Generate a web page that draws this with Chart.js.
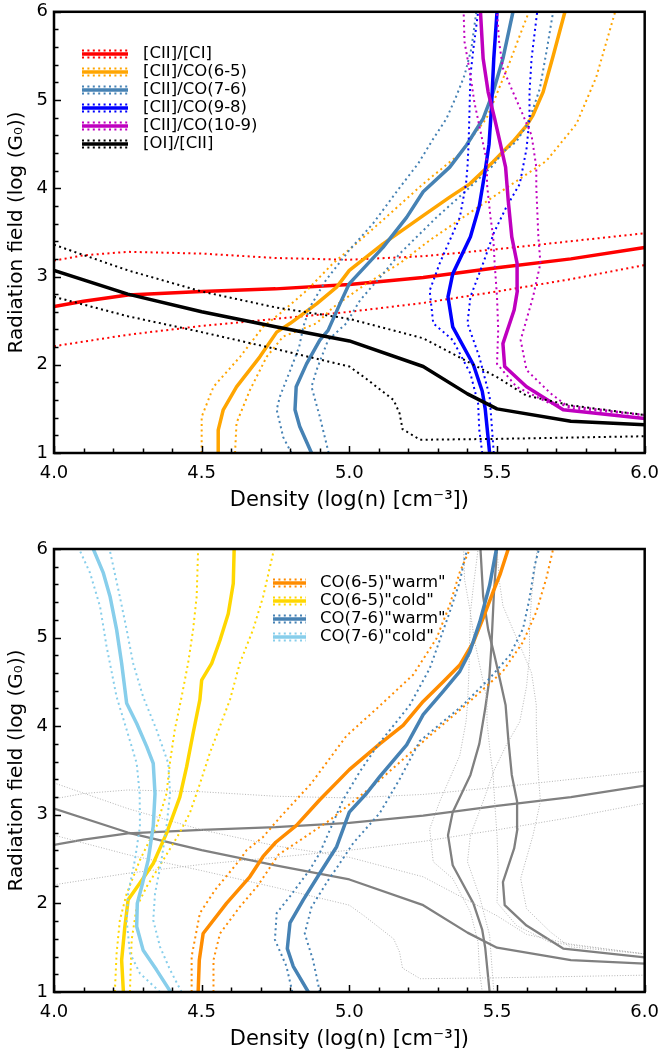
<!DOCTYPE html>
<html><head><meta charset="utf-8">
<script src="https://cdn.jsdelivr.net/npm/chart.js@4.4.0/dist/chart.umd.min.js"></script>
<style>
html,body{margin:0;padding:0;background:#fff;overflow:hidden;}
#w1{position:absolute;left:0;top:-5px;width:669px;height:526px;}
#w2{position:absolute;left:0;top:526px;width:669px;height:527px;}
</style></head><body>
<div id="w1"><canvas id="c1"></canvas></div>
<div id="w2"><canvas id="c2"></canvas></div>
<script>
// ---------- axis / tick labels ----------
const xTickValues = [4.0, 4.5, 5.0, 5.5, 6.0];
const yTickValues = [1, 2, 3, 4, 5, 6];
const xTitleText = 'Density (log(n) [cm\u207B\u00B3])';
const yTitleText = 'Radiation field (log (G\u2080))';

// ---------- top panel: line ratios (x = log n, y = log G0) ----------
const ciiCiMid = [[4.0,2.66],[4.1,2.72],[4.25,2.79],[4.5,2.83],[4.75,2.86],[5.0,2.91],[5.25,2.99],[5.5,3.10],[5.75,3.20],[6.0,3.33]];
const ciiCiUp  = [[4.0,3.18],[4.1,3.24],[4.25,3.28],[4.5,3.26],[4.75,3.21],[5.0,3.19],[5.25,3.23],[5.5,3.31],[5.75,3.40],[6.0,3.49]];
const ciiCiLow = [[4.0,2.21],[4.25,2.34],[4.5,2.44],[4.75,2.52],[5.0,2.60],[5.25,2.70],[5.5,2.83],[5.75,2.97],[6.0,3.13]];

const co65Mid = [[4.556,1.0],[4.556,1.26],[4.573,1.49],[4.618,1.75],[4.697,2.09],[4.754,2.37],[4.80,2.47],[4.889,2.69],[4.957,2.88],[5.0,3.07],[5.114,3.37],[5.25,3.69],[5.34,3.90],[5.408,4.05],[5.487,4.30],[5.554,4.53],[5.60,4.71],[5.622,4.83],[5.656,5.09],[5.69,5.50],[5.73,6.0]];
const co65Lo  = [[4.50,1.0],[4.50,1.41],[4.54,1.75],[4.63,2.09],[4.708,2.43],[4.765,2.58],[4.855,2.84],[4.945,3.15],[5.036,3.41],[5.137,3.71],[5.25,4.05],[5.374,4.39],[5.42,4.6],[5.464,4.79],[5.492,5.01],[5.52,5.24],[5.543,5.43],[5.577,5.73],[5.608,6.0]];
const co65Hi  = [[4.613,1.0],[4.618,1.34],[4.663,1.71],[4.72,2.09],[4.776,2.32],[4.889,2.47],[4.945,2.65],[5.058,2.92],[5.171,3.15],[5.272,3.41],[5.385,3.67],[5.53,4.0],[5.667,4.31],[5.769,4.73],[5.836,5.26],[5.90,6.0]];

const co76Mid = [[4.872,1.0],[4.832,1.3],[4.816,1.49],[4.82,1.75],[4.855,2.01],[4.90,2.28],[4.928,2.39],[4.968,2.69],[5.0,2.92],[5.114,3.33],[5.194,3.67],[5.25,3.96],[5.34,4.24],[5.397,4.49],[5.453,4.79],[5.487,5.09],[5.52,5.47],[5.554,6.0]];
const co76Lo  = [[4.804,1.0],[4.776,1.18],[4.754,1.49],[4.765,1.64],[4.80,1.94],[4.83,2.2],[4.844,2.43],[4.866,2.65],[4.921,2.96],[5.0,3.30],[5.08,3.60],[5.171,4.01],[5.233,4.28],[5.284,4.56],[5.329,4.79],[5.363,5.05],[5.39,5.28],[5.413,5.58],[5.43,6.0]];
const co76Hi  = [[4.93,1.0],[4.90,1.41],[4.872,1.75],[4.889,1.94],[4.928,2.28],[4.99,2.47],[5.036,2.73],[5.114,3.03],[5.171,3.26],[5.295,3.67],[5.385,3.94],[5.487,4.26],[5.52,4.41],[5.566,4.53],[5.60,4.71],[5.622,4.90],[5.645,5.13],[5.667,5.54],[5.69,6.0]];

const co98Mid = [[5.475,1.0],[5.46,1.5],[5.45,1.7],[5.42,2.0],[5.35,2.43],[5.334,2.77],[5.35,3.03],[5.41,3.45],[5.44,3.8],[5.46,4.2],[5.473,4.5],[5.481,4.9],[5.489,5.47],[5.50,6.0]];
const co98Lo  = [[5.45,1.0],[5.44,1.26],[5.436,1.56],[5.41,1.90],[5.35,2.28],[5.284,2.47],[5.272,2.84],[5.306,3.15],[5.34,3.41],[5.374,3.67],[5.395,4.05],[5.40,4.24],[5.404,4.53],[5.407,4.90],[5.41,5.28],[5.42,5.58],[5.436,6.0]];
const co98Hi  = [[5.489,1.0],[5.475,1.64],[5.44,2.09],[5.40,2.47],[5.41,2.77],[5.453,3.15],[5.49,3.5],[5.532,3.79],[5.577,4.05],[5.588,4.24],[5.60,4.45],[5.61,4.79],[5.61,5.09],[5.617,5.47],[5.636,6.0]];

const co109Mid = [[6.0,1.39],[5.724,1.49],[5.60,1.75],[5.526,1.98],[5.52,2.24],[5.558,2.62],[5.569,2.84],[5.568,3.15],[5.55,3.45],[5.538,3.86],[5.529,4.24],[5.515,4.45],[5.492,4.79],[5.47,5.09],[5.453,5.47],[5.444,6.0]];
const co109Lo  = [[6.0,1.43],[5.68,1.56],[5.566,1.75],[5.50,2.01],[5.504,2.40],[5.50,2.77],[5.492,3.15],[5.487,3.45],[5.478,3.67],[5.466,4.05],[5.466,4.3],[5.44,4.71],[5.423,4.98],[5.41,5.28],[5.39,5.66],[5.387,6.0]];
const co109Hi  = [[6.0,1.43],[5.746,1.51],[5.68,1.68],[5.60,1.94],[5.58,2.28],[5.622,2.77],[5.647,3.15],[5.64,3.45],[5.633,4.01],[5.633,4.24],[5.617,4.60],[5.588,4.83],[5.554,5.09],[5.52,5.36],[5.507,5.66],[5.50,6.0]];

const oiCiiMid = [[4.0,3.07],[4.25,2.80],[4.5,2.60],[4.75,2.43],[5.0,2.27],[5.25,1.98],[5.4,1.67],[5.5,1.50],[5.75,1.36],[6.0,1.32]];
const oiCiiUp  = [[4.0,3.36],[4.25,3.07],[4.5,2.83],[4.75,2.65],[5.0,2.52],[5.25,2.30],[5.5,1.86],[5.6,1.65],[5.75,1.54],[6.0,1.43]];
const oiCiiLow = [[4.0,2.77],[4.25,2.55],[4.5,2.37],[4.75,2.18],[5.0,1.98],[5.05,1.86],[5.15,1.6],[5.17,1.45],[5.18,1.27],[5.24,1.15],[5.5,1.16],[6.0,1.19]];

// ---------- bottom panel: CO "warm" / "cold" ----------
const w65Mid = [[4.488,1.0],[4.492,1.36],[4.505,1.66],[4.584,2.0],[4.663,2.30],[4.708,2.53],[4.751,2.69],[4.821,2.88],[4.90,3.17],[5.0,3.51],[5.103,3.80],[5.182,4.01],[5.25,4.28],[5.317,4.50],[5.374,4.69],[5.42,4.95],[5.453,5.22],[5.487,5.52],[5.51,5.71],[5.538,6.0]];
const w65Lo  = [[4.466,1.0],[4.466,1.4],[4.494,1.89],[4.545,2.15],[4.629,2.49],[4.652,2.60],[4.708,2.75],[4.765,2.97],[4.87,3.35],[4.99,3.89],[5.09,4.19],[5.216,4.58],[5.295,4.99],[5.34,5.37],[5.374,5.74],[5.408,6.0]];
const w65Hi  = [[4.54,1.0],[4.54,1.36],[4.562,1.66],[4.629,1.96],[4.69,2.2],[4.76,2.55],[4.85,2.75],[4.934,2.94],[4.99,3.09],[5.092,3.36],[5.261,3.86],[5.408,4.28],[5.52,4.62],[5.588,4.95],[5.633,5.29],[5.667,5.67],[5.69,6.0]];

const c65Mid = [[4.235,1.0],[4.229,1.36],[4.24,1.74],[4.251,2.04],[4.291,2.23],[4.336,2.45],[4.381,2.79],[4.426,3.2],[4.449,3.54],[4.471,3.92],[4.494,4.30],[4.50,4.52],[4.534,4.71],[4.562,4.97],[4.59,5.27],[4.607,5.61],[4.61,6.0]];
const c65Lo  = [[4.206,1.0],[4.212,1.44],[4.223,1.81],[4.246,2.11],[4.291,2.49],[4.347,2.87],[4.381,3.24],[4.393,3.6],[4.409,3.96],[4.432,4.33],[4.454,4.71],[4.471,5.09],[4.483,5.46],[4.488,6.0]];
const c65Hi  = [[4.257,1.0],[4.263,1.59],[4.28,1.96],[4.314,2.19],[4.37,2.49],[4.426,2.8],[4.46,3.02],[4.494,3.35],[4.528,3.70],[4.562,4.0],[4.596,4.30],[4.629,4.71],[4.674,5.09],[4.708,5.46],[4.745,6.0]];

const w76Mid = [[4.861,1.0],[4.81,1.29],[4.79,1.49],[4.799,1.78],[4.844,2.04],[4.90,2.34],[4.957,2.64],[5.0,3.03],[5.058,3.24],[5.103,3.43],[5.194,3.79],[5.25,4.13],[5.317,4.39],[5.374,4.62],[5.408,4.84],[5.442,5.18],[5.475,5.59],[5.498,6.0]];
const w76Lo  = [[4.807,1.0],[4.787,1.29],[4.748,1.59],[4.754,1.89],[4.799,2.08],[4.866,2.38],[4.90,2.57],[4.979,3.17],[5.036,3.49],[5.095,3.78],[5.205,4.24],[5.272,4.65],[5.34,5.29],[5.374,5.63],[5.39,5.89],[5.40,6.0]];
const w76Hi  = [[4.90,1.0],[4.877,1.36],[4.849,1.66],[4.872,1.96],[4.928,2.26],[4.945,2.34],[5.013,2.68],[5.103,3.02],[5.17,3.4],[5.238,3.83],[5.385,4.24],[5.475,4.54],[5.543,4.80],[5.588,5.10],[5.61,5.44],[5.628,5.82],[5.642,6.0]];

const c76Mid = [[4.395,1.0],[4.347,1.25],[4.302,1.47],[4.28,1.74],[4.282,2.0],[4.297,2.19],[4.319,2.49],[4.336,2.87],[4.342,3.24],[4.336,3.58],[4.314,3.77],[4.28,4.03],[4.246,4.26],[4.229,4.71],[4.212,5.09],[4.19,5.46],[4.167,5.73],[4.133,6.0]];
const c76Lo  = [[4.359,1.0],[4.291,1.21],[4.257,1.44],[4.246,1.81],[4.251,2.11],[4.274,2.49],[4.291,2.87],[4.29,3.24],[4.28,3.58],[4.246,3.96],[4.212,4.33],[4.178,4.90],[4.156,5.35],[4.122,5.73],[4.085,6.0]];
const c76Hi  = [[4.432,1.0],[4.393,1.25],[4.359,1.51],[4.336,1.81],[4.342,2.11],[4.364,2.49],[4.381,2.87],[4.393,3.24],[4.387,3.58],[4.347,3.96],[4.302,4.33],[4.268,4.71],[4.246,5.09],[4.223,5.46],[4.188,6.0]];

// ---------- legend labels ----------
const topLabels = ['[CII]/[CI]', '[CII]/CO(6-5)', '[CII]/CO(7-6)', '[CII]/CO(9-8)', '[CII]/CO(10-9)', '[OI]/[CII]'];
const bottomLabels = ['CO(6-5)"warm"', 'CO(6-5)"cold"', 'CO(7-6)"warm"', 'CO(7-6)"cold"'];

// ---------- styling ----------
const FONT = "'DejaVu Sans', 'Liberation Sans', sans-serif";
const topColors = ['#ff0000', '#ffa500', '#4682b4', '#0000ff', '#bf00bf', '#000000'];
const bottomColors = ['#ff8c00', '#ffd700', '#4682b4', '#87ceeb'];

function pts(a){ return a.map(p => ({x:p[0], y:p[1]})); }
let orderCounter = 0;
function solid(arr, color, w){
  return {data: pts(arr), showLine:true, borderColor:color, borderWidth:w, pointRadius:0, fill:false, tension:0, order: -(orderCounter++), borderCapStyle:'butt', borderJoinStyle:'round'};
}
function dotted(arr, color, w, dash){
  return {data: pts(arr), showLine:true, borderColor:color, borderWidth:w, borderDash:dash, pointRadius:0, fill:false, tension:0, order: -(orderCounter++), borderCapStyle:'butt'};
}
const DOT = [2, 3.4];

function groupTop(mid, lo, hi, color){
  return [dotted(lo,color,2,DOT), dotted(hi,color,2,DOT), solid(mid,color,3.5)];
}
function groupGray(mid, lo, hi){
  return [dotted(lo,'#b4b4b4',1,[1,1.7]), dotted(hi,'#b4b4b4',1,[1,1.7]), solid(mid,'#808080',2.3)];
}

const topSets = [].concat(
  groupTop(ciiCiMid, ciiCiUp, ciiCiLow, topColors[0]),
  groupTop(co65Mid, co65Lo, co65Hi, topColors[1]),
  groupTop(co76Mid, co76Lo, co76Hi, topColors[2]),
  groupTop(co98Mid, co98Lo, co98Hi, topColors[3]),
  groupTop(co109Mid, co109Lo, co109Hi, topColors[4]),
  groupTop(oiCiiMid, oiCiiUp, oiCiiLow, topColors[5])
);
orderCounter = 0;
const bottomSets = [].concat(
  groupGray(ciiCiMid, ciiCiUp, ciiCiLow),
  groupGray(co98Mid, co98Lo, co98Hi),
  groupGray(co109Mid, co109Lo, co109Hi),
  groupGray(oiCiiMid, oiCiiUp, oiCiiLow),
  groupTop(w65Mid, w65Lo, w65Hi, bottomColors[0]),
  groupTop(c65Mid, c65Lo, c65Hi, bottomColors[1]),
  groupTop(w76Mid, w76Lo, w76Hi, bottomColors[2]),
  groupTop(c76Mid, c76Lo, c76Hi, bottomColors[3])
);

// frame + inward ticks (major & minor)
const framePlugin = {
  id: 'frameTicks',
  afterDraw(chart){
    const {ctx, chartArea:a, scales:{x, y}} = chart;
    ctx.save();
    ctx.strokeStyle = '#000';
    ctx.lineWidth = 1.5;
    ctx.beginPath();
    for (let i = 0; i <= 20; i++){
      const v = 4 + i*0.1;
      const px = Math.round(x.getPixelForValue(v)) + 0.5;
      const len = (i % 5 === 0) ? 7 : 4.5;
      ctx.moveTo(px, a.bottom); ctx.lineTo(px, a.bottom - len);
    }
    for (let i = 0; i <= 25; i++){
      const v = 1 + i*0.2;
      const py = Math.round(y.getPixelForValue(v)) + 0.5;
      const len = (i % 5 === 0) ? 7 : 4.5;
      ctx.moveTo(a.left, py); ctx.lineTo(a.left + len, py);
    }
    ctx.stroke();
    ctx.lineWidth = 2.5;
    ctx.strokeRect(a.left, a.top, a.right - a.left, a.bottom - a.top);
    ctx.restore();
  }
};

// legend with solid + two dotted handle lines
const pairLegend = {
  id: 'pairLegend',
  afterDraw(chart, args, opts){
    if (!opts || !opts.labels) return;
    const ctx = chart.ctx;
    ctx.save();
    ctx.font = opts.fontSize + 'px ' + FONT;
    ctx.textBaseline = 'middle';
    ctx.fillStyle = '#000';
    opts.labels.forEach((lab, i) => {
      const yy = opts.y0 + i*opts.dy;
      const c = opts.colors[i];
      ctx.strokeStyle = c;
      ctx.lineCap = 'butt';
      ctx.setLineDash([2, 3.4]); ctx.lineWidth = 2;
      ctx.beginPath();
      ctx.moveTo(opts.x0, yy - 3.5); ctx.lineTo(opts.x1, yy - 3.5);
      ctx.moveTo(opts.x0, yy + 3.5); ctx.lineTo(opts.x1, yy + 3.5);
      ctx.stroke();
      ctx.setLineDash([]); ctx.lineWidth = 3.5;
      ctx.beginPath(); ctx.moveTo(opts.x0, yy); ctx.lineTo(opts.x1, yy); ctx.stroke();
      ctx.fillText(lab, opts.tx, yy);
    });
    ctx.restore();
  }
};

function makeChart(id, datasets, legendOpts, padTop, xAxisH, titlePadBottom){
  return new Chart(document.getElementById(id), {
    type: 'scatter',
    data: {datasets},
    options: {
      responsive: true, maintainAspectRatio: false, animation: false,
      layout: {padding: {top: padTop, right: 18, left: 0, bottom: 0}},
      plugins: {legend:{display:false}, tooltip:{enabled:false}, pairLegend: legendOpts},
      scales: {
        x: {
          type:'linear', min:4, max:6,
          grid:{display:false, drawTicks:false}, border:{display:false},
          afterBuildTicks: s => { s.ticks = xTickValues.map(v => ({value:v})); },
          ticks:{autoSkip:false, maxRotation:0, padding:10, color:'#000', font:{family:FONT, size:18}, callback: v => Number(v).toFixed(1)},
          title:{display:true, text:xTitleText, color:'#000', font:{family:FONT, size:21}, padding:{top:0, bottom:titlePadBottom}},
          afterFit: s => { s.height = xAxisH; }
        },
        y: {
          type:'linear', min:1, max:6,
          grid:{display:false, drawTicks:false}, border:{display:false},
          afterBuildTicks: s => { s.ticks = yTickValues.map(v => ({value:v})); },
          ticks:{autoSkip:false, padding:6, color:'#000', font:{family:FONT, size:18}, callback: v => String(v)},
          title:{display:true, text:yTitleText, color:'#000', font:{family:FONT, size:20}, padding:{top:5, bottom:0}},
          afterFit: s => { s.width = 54; }
        }
      }
    },
    plugins: [framePlugin, pairLegend]
  });
}

makeChart('c1', topSets, {labels: topLabels, colors: topColors, x0:82, x1:128, tx:143, y0:59, dy:18, fontSize:16.5}, 11, 68, 8);
makeChart('c2', bottomSets, {labels: bottomLabels, colors: bottomColors, x0:273, x1:306, tx:320, y0:57, dy:18, fontSize:16.5}, 23, 61, 1);
</script>
</body></html>
